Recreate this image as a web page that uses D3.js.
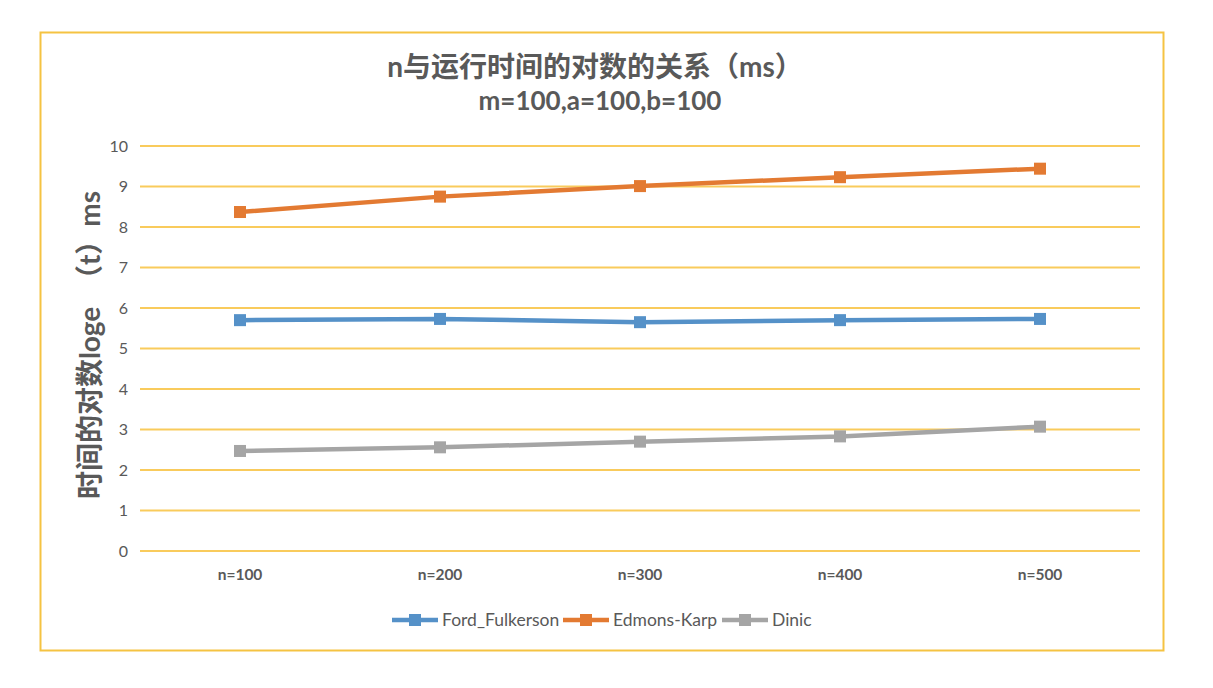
<!DOCTYPE html>
<html><head><meta charset="utf-8">
<script src="https://cdn.jsdelivr.net/npm/d3@7"></script>
<style>body{margin:0;background:#fff;} text{font-family:Lato,"Noto Sans CJK SC",sans-serif;}</style>
</head><body><svg id="c" width="1213" height="688"></svg>
<script>
const categories = ["n=100","n=200","n=300","n=400","n=500"];
const seriesNames = ["Ford_Fulkerson","Edmons-Karp","Dinic"];
const fordFulkerson = [5.70,5.73,5.65,5.70,5.73];
const edmondsKarp = [8.37,8.75,9.01,9.23,9.44];
const dinic = [2.47,2.56,2.70,2.83,3.07];
const yTicks = [0,1,2,3,4,5,6,7,8,9,10];
const colors = ["#5591C8","#E37A32","#A5A5A5"];
const seriesValues = [fordFulkerson, edmondsKarp, dinic];

const svg = d3.select("#c");
svg.append("rect").attr("x",40.5).attr("y",32.5).attr("width",1123).attr("height",618)
  .attr("fill","#fff").attr("stroke","#F5C342").attr("stroke-width",2);

const x = d3.scaleBand().domain(categories).range([140,1140]);
const y = d3.scaleLinear().domain([0,10]).range([551,146]);

const grid = svg.append("g");
grid.selectAll("line").data(yTicks).join("line")
  .attr("x1",140).attr("x2",1140).attr("y1",d=>y(d)).attr("y2",d=>y(d))
  .attr("stroke","#F9CB5C").attr("stroke-width",2);

const yAxis = svg.append("g").attr("transform","translate(140,0)")
  .call(d3.axisLeft(y).tickValues(yTicks).tickSize(0).tickPadding(12));
yAxis.select(".domain").remove();
yAxis.selectAll("text").attr("fill","#595959").style("font-size","16px").style("font-family","Lato,sans-serif");

const xAxis = svg.append("g").attr("transform","translate(0,551)")
  .call(d3.axisBottom(x).tickSize(0).tickPadding(18));
xAxis.select(".domain").remove();
xAxis.selectAll("text").attr("fill","#595959").style("font-size","15.5px").style("font-weight","bold").style("font-family","Lato,sans-serif");

const line = d3.line().x((d,i)=>x(categories[i])+x.bandwidth()/2).y(d=>y(d));
seriesValues.forEach((vals,si)=>{
  const g = svg.append("g");
  g.append("path").attr("d",line(vals)).attr("fill","none").attr("stroke",colors[si]).attr("stroke-width",4.5);
  g.selectAll("rect").data(vals).join("rect")
    .attr("x",(d,i)=>x(categories[i])+x.bandwidth()/2-6).attr("y",d=>y(d)-6)
    .attr("width",12).attr("height",12).attr("fill",colors[si]);
});

svg.append("text").attr("x",595).attr("y",77).attr("text-anchor","middle")
  .attr("fill","#595959").style("font-size","28px").style("font-weight","bold")
  .text("n与运行时间的对数的关系（ms）");
svg.append("text").attr("x",600).attr("y",110).attr("text-anchor","middle")
  .attr("fill","#595959").style("font-size","26px").style("font-weight","bold")
  .text("m=100,a=100,b=100");

svg.append("text").attr("transform","translate(100,345) rotate(-90)").attr("text-anchor","middle")
  .attr("fill","#595959").style("font-size","28px").style("font-weight","bold")
  .style("white-space","pre")
  .text("时间的对数loge  （t）ms");

const legX = [392,563,722];
const leg = svg.append("g");
seriesNames.forEach((n,i)=>{
  const g = leg.append("g").attr("transform",`translate(${legX[i]},620)`);
  g.append("line").attr("x1",0).attr("x2",46).attr("stroke",colors[i]).attr("stroke-width",4.5);
  g.append("rect").attr("x",17).attr("y",-6).attr("width",12).attr("height",12).attr("fill",colors[i]);
  g.append("text").attr("x",50).attr("y",6).attr("fill","#595959").style("font-size","17.5px").text(n);
});
</script></body></html>
